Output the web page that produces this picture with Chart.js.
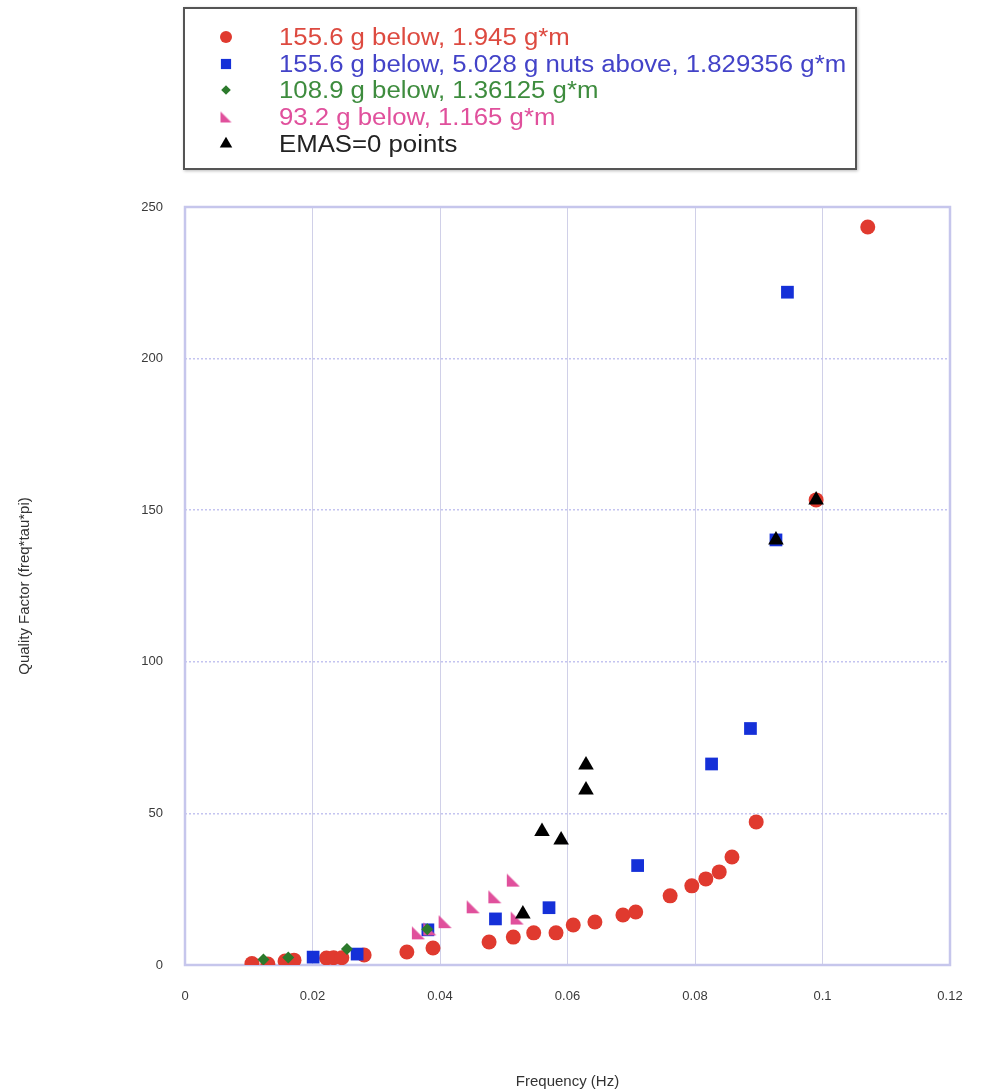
<!DOCTYPE html>
<html>
<head>
<meta charset="utf-8">
<script src="https://cdn.jsdelivr.net/npm/chart.js@4.4.0/dist/chart.umd.min.js"></script>
<style>
  html, body { margin: 0; padding: 0; background: #fff; }
  #wrap { position: relative; width: 984px; height: 1092px; }
  #legend {
    position: absolute; left: 183px; top: 7px; width: 670px; height: 159px;
    border: 2px solid #555; box-shadow: 1px 1px 3px #bbb;
    font-family: "Liberation Sans", Arial, sans-serif; font-size: 23px;
  }
  .row { position: absolute; left: 0; height: 26px; display: flex; align-items: center; white-space: nowrap; }
  .row canvas { margin-left: 31px; margin-right: 43px; }
  .row span { display: inline-block; transform: scaleX(1.12); transform-origin: left center; }
</style>
</head>
<body>
<div id="wrap">
  <canvas id="chart" width="984" height="1092"></canvas>
  <div id="legend"></div>
</div>
<script>
document.addEventListener('DOMContentLoaded', function () {
    // 155.6 g below, 1.945 g*m
    const redX = [0.0105, 0.0130, 0.0157, 0.0171, 0.0222, 0.0233, 0.0246, 0.0281, 0.0348, 0.0389, 0.0477, 0.0515, 0.0547, 0.0582,
                  0.0609, 0.0643, 0.0687, 0.0707, 0.0761, 0.0795, 0.0817, 0.0838, 0.0858, 0.0896, 0.0990, 0.1071];
    const redY = [0.5, 0.3, 1.3, 1.6, 2.3, 2.4, 2.4, 3.3, 4.3, 5.6, 7.6, 9.2, 10.6, 10.6,
                  13.2, 14.2, 16.5, 17.5, 22.8, 26.1, 28.4, 30.7, 35.6, 47.2, 153.4, 243.4];
    // 155.6 g below, 5.028 g nuts above
    const blueX = [0.0201, 0.0270, 0.0381, 0.0487, 0.0571, 0.0710, 0.0826, 0.0887, 0.0927, 0.0945];
    const blueY = [2.6, 3.6, 11.6, 15.2, 18.9, 32.8, 66.3, 78.0, 140.2, 221.9];
    // 108.9 g below
    const greenX = [0.0123, 0.0162, 0.0254, 0.0380];
    const greenY = [1.8, 2.5, 5.3, 11.8];
    // 93.2 g below
    const pinkX = [0.0366, 0.0384, 0.0408, 0.0452, 0.0486, 0.0515, 0.0521];
    const pinkY = [10.6, 11.9, 14.3, 19.2, 22.5, 28.0, 15.5];
    // EMAS=0 points
    const blackX = [0.0530, 0.0560, 0.0590, 0.0629, 0.0629, 0.0927, 0.0990];
    const blackY = [16.8, 44.0, 41.2, 57.7, 66.0, 140.2, 153.4];

    const xTicks = [0, 0.02, 0.04, 0.06, 0.08, 0.1, 0.12];
    const yTicks = [0, 50, 100, 150, 200, 250];

    const labels = [
        '155.6 g below, 1.945 g*m',
        '155.6 g below, 5.028 g nuts above, 1.829356 g*m',
        '108.9 g below, 1.36125 g*m',
        '93.2 g below, 1.165 g*m',
        'EMAS=0 points'
    ];
    const textColors = ['#dd4a40', '#4343c8', '#3e8c3e', '#e0509c', '#222222'];

    function toPoints(xs, ys) {
        return xs.map((x, i) => ({ x: x, y: ys[i] }));
    }

    // right-angle triangle marker (not built into Chart.js)
    function rightTriangle(size, color) {
        const c = document.createElement('canvas');
        c.width = size; c.height = size;
        const g = c.getContext('2d');
        g.fillStyle = color;
        g.beginPath();
        g.moveTo(1, 1);
        g.lineTo(1, size - 1);
        g.lineTo(size - 1, size - 1);
        g.closePath();
        g.fill();
        return c;
    }

    const datasets = [
        { label: labels[0], data: toPoints(redX, redY), pointStyle: 'circle', pointRadius: 7.5, pointBackgroundColor: '#e03a2f', order: 5 },
        { label: labels[1], data: toPoints(blueX, blueY), pointStyle: 'rect', pointRadius: 9, pointBackgroundColor: '#1530d8', order: 4 },
        { label: labels[2], data: toPoints(greenX, greenY), pointStyle: 'rectRot', pointRadius: 6, pointBackgroundColor: '#2c7a2c', order: 2 },
        { label: labels[3], data: toPoints(pinkX, pinkY), pointStyle: rightTriangle(15, '#e0509c'), pointRadius: 7, pointBackgroundColor: '#e0509c', order: 3 },
        { label: labels[4], data: toPoints(blackX, blackY), pointStyle: 'triangle', pointRadius: 9, pointBackgroundColor: '#000000', order: 1 }
    ];
    datasets.forEach(d => { d.pointBorderWidth = 0; d.pointHoverRadius = d.pointRadius; });

    const framePlugin = {
        id: 'frame',
        beforeDatasetsDraw(chart) {
            const { ctx, chartArea: a } = chart;
            ctx.save();
            ctx.strokeStyle = '#c6c6ec';
            ctx.lineWidth = 2.5;
            ctx.strokeRect(a.left, a.top, a.right - a.left, a.bottom - a.top);
            ctx.restore();
        }
    };

    const chart = new Chart(document.getElementById('chart'), {
        type: 'scatter',
        data: { datasets: datasets },
        plugins: [framePlugin],
        options: {
            responsive: false,
            animation: false,
            layout: { padding: { top: 207, right: 34, left: 0, bottom: 0 } },
            plugins: {
                legend: { display: false },
                tooltip: { enabled: false }
            },
            scales: {
                x: {
                    type: 'linear',
                    min: 0,
                    max: 0.12,
                    afterBuildTicks: s => { s.ticks = xTicks.map(v => ({ value: v })); },
                    afterFit: s => { s.height = 127; s.paddingLeft = 0; s.paddingRight = 0; },
                    ticks: {
                        padding: 24,
                        color: '#3a3a3a',
                        font: { family: 'Liberation Sans', size: 13 },
                        callback: v => String(Math.round(v * 100) / 100)
                    },
                    grid: { color: '#d0d0e8', lineWidth: 1, drawTicks: false },
                    border: { display: false },
                    title: {
                        display: true,
                        text: 'Frequency (Hz)',
                        color: '#333',
                        font: { family: 'Liberation Sans', size: 15 },
                        padding: { top: 0, bottom: 1 }
                    }
                },
                y: {
                    min: 0,
                    max: 250,
                    afterBuildTicks: s => { s.ticks = yTicks.map(v => ({ value: v })); },
                    afterFit: s => { s.width = 185; s.paddingTop = 0; s.paddingBottom = 0; },
                    ticks: {
                        padding: 22,
                        color: '#3a3a3a',
                        font: { family: 'Liberation Sans', size: 13 }
                    },
                    grid: { color: '#c4c4f0', lineWidth: 1.5, drawTicks: false },
                    border: { display: false, dash: [2, 2] },
                    title: {
                        display: true,
                        text: 'Quality Factor (freq*tau*pi)',
                        color: '#333',
                        font: { family: 'Liberation Sans', size: 15 },
                        padding: { top: 16, bottom: 0 }
                    }
                }
            }
        }
    });

    // boxed legend with coloured texts
    const legend = document.getElementById('legend');
    const rowCenters = [28, 55, 81, 108, 135];
    chart.data.datasets.forEach((ds, i) => {
        const row = document.createElement('div');
        row.className = 'row';
        row.style.top = (rowCenters[i] - 13) + 'px';
        const mk = document.createElement('canvas');
        mk.width = 20; mk.height = 20;
        const g = mk.getContext('2d');
        g.fillStyle = ds.pointBackgroundColor;
        const r = typeof ds.pointStyle === 'string' ? ds.pointRadius * 0.8 : ds.pointRadius;
        const style = typeof ds.pointStyle === 'string' ? ds.pointStyle : rightTriangle(13, ds.pointBackgroundColor);
        Chart.helpers.drawPoint(g, { pointStyle: style, radius: r, rotation: 0, borderWidth: 0 }, 10, 10);
        const txt = document.createElement('span');
        txt.textContent = ds.label;
        txt.style.color = textColors[i];
        row.appendChild(mk);
        row.appendChild(txt);
        legend.appendChild(row);
    });
});
</script>
</body>
</html>
